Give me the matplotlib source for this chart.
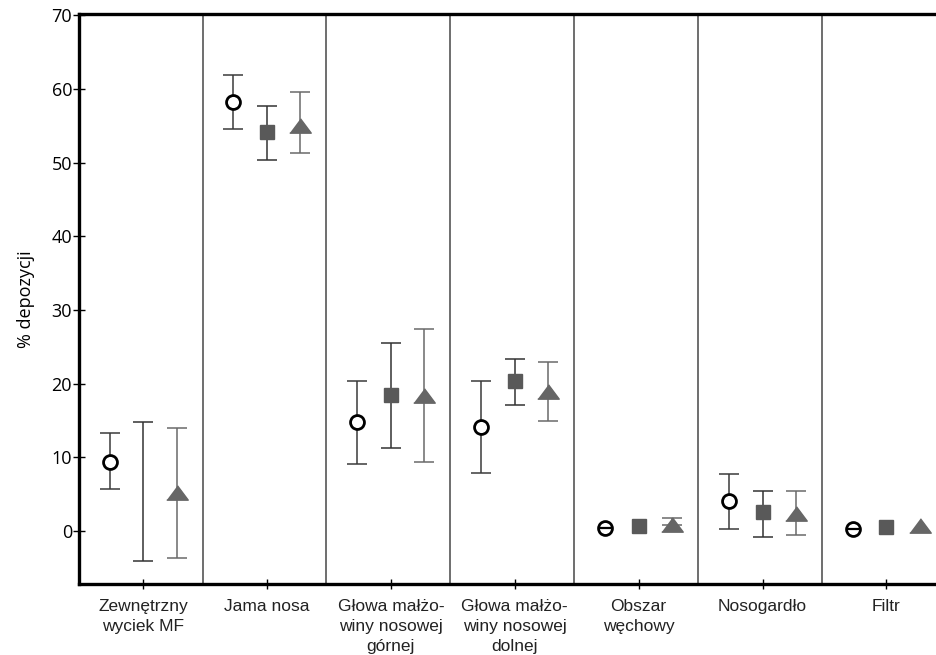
import matplotlib
matplotlib.use("Agg")
import matplotlib.pyplot as plt
import numpy as np

categories = ["Zewnętrzny\nwyciek MF", "Jama nosa", "Głowa małżo-\nwiny nosowej\ngórnej",
              "Głowa małżo-\nwiny nosowej\ndolnej", "Obszar\nwęchowy", "Nosogardło", "Filtr"]

# mean, upper whisker, lower whisker for each series
circle_mean = [9.4, 58.2, 14.8, 14.1, 0.4, 4.1, 0.3]
circle_hi = [13.3, 61.9, 20.3, 20.3, 0.4, 7.7, 0.3]
circle_lo = [5.7, 54.5, 9.1, 7.9, 0.4, 0.3, 0.3]
circle_tiny = [False, False, False, False, True, False, True]  # tiny spread, shown as a bar inside the circle

square_mean = [5.3, 54.1, 18.5, 20.3, 0.7, 2.6, 0.6]
square_hi = [14.8, 57.7, 25.5, 23.4, 0.7, 5.4, 0.6]
square_lo = [-4.1, 50.3, 11.2, 17.1, 0.7, -0.8, 0.6]
square_show = [False, True, True, True, True, True, True]

tri_mean = [5.2, 55.0, 18.3, 18.8, 0.8, 2.3, 0.7]
tri_hi = [14.0, 59.6, 27.4, 22.9, 1.8, 5.4, 0.7]
tri_lo = [-3.7, 51.3, 9.4, 14.9, 0.8, -0.5, 0.7]

x = np.arange(len(categories))
off = 0.27

fig = plt.figure(figsize=(9.36, 6.55), dpi=100)
ax = fig.add_axes([0.0844, 0.1084, 0.9156, 0.8695])

# separators between categories
for k in range(len(categories) - 1):
    ax.axvline(k + 0.48, color="#555555", lw=1.2, zorder=1)


def draw_err(xs, m, hi, lo, color):
    m, hi, lo = np.array(m), np.array(hi), np.array(lo)
    keep = (hi > m) | (lo < m)
    ax.errorbar(xs[keep], m[keep], yerr=[m[keep] - lo[keep], hi[keep] - m[keep]], fmt="none",
                ecolor=color, elinewidth=1.1, capsize=7, capthick=1.1, zorder=2)


draw_err(x - off, circle_mean, circle_hi, circle_lo, "#3a3a3a")
ax.plot(x - off, circle_mean, "o", ms=10, mfc="white", mec="black", mew=2.0, ls="none", zorder=3)
cm = np.array(circle_mean)
ct = np.array(circle_tiny)
ax.plot((x - off)[ct], cm[ct], "_", ms=8, mew=1.6, color="black", ls="none", zorder=4)

draw_err(x, square_mean, square_hi, square_lo, "#333333")
ss = np.array(square_show)
ax.plot(x[ss], np.array(square_mean)[ss], "s", ms=10, color="#595959", ls="none", zorder=3)

tri = [(-1, -0.62), (1, -0.62), (0, 0.72)]
draw_err(x + off, tri_mean, tri_hi, tri_lo, "#6a6a6a")
ax.plot(x + off, tri_mean, marker=tri, ms=15.5, color="#666666", ls="none", zorder=3)

ax.set_xlim(-0.517, 6.40)
ax.set_ylim(-7.2, 70.1)
ax.set_yticks(range(0, 71, 10))
ax.set_yticklabels([str(v) for v in range(0, 71, 10)], family="Open Sans", fontsize=13)
ax.set_xticks(x)
ax.set_xticklabels(categories, family="Liberation Sans", fontsize=12.5, color="#222222",
                   linespacing=1.45)
ax.tick_params(axis="y", direction="inout", length=8, width=1, pad=1)
ax.tick_params(axis="x", direction="inout", length=7, width=1, pad=7)
for s in ["left", "bottom", "top"]:
    ax.spines[s].set_linewidth(2.4)
ax.spines["right"].set_visible(False)
ax.set_ylabel("% depozycji", family="Open Sans", fontsize=13, labelpad=12)

fig.savefig("out.png", dpi=100)
